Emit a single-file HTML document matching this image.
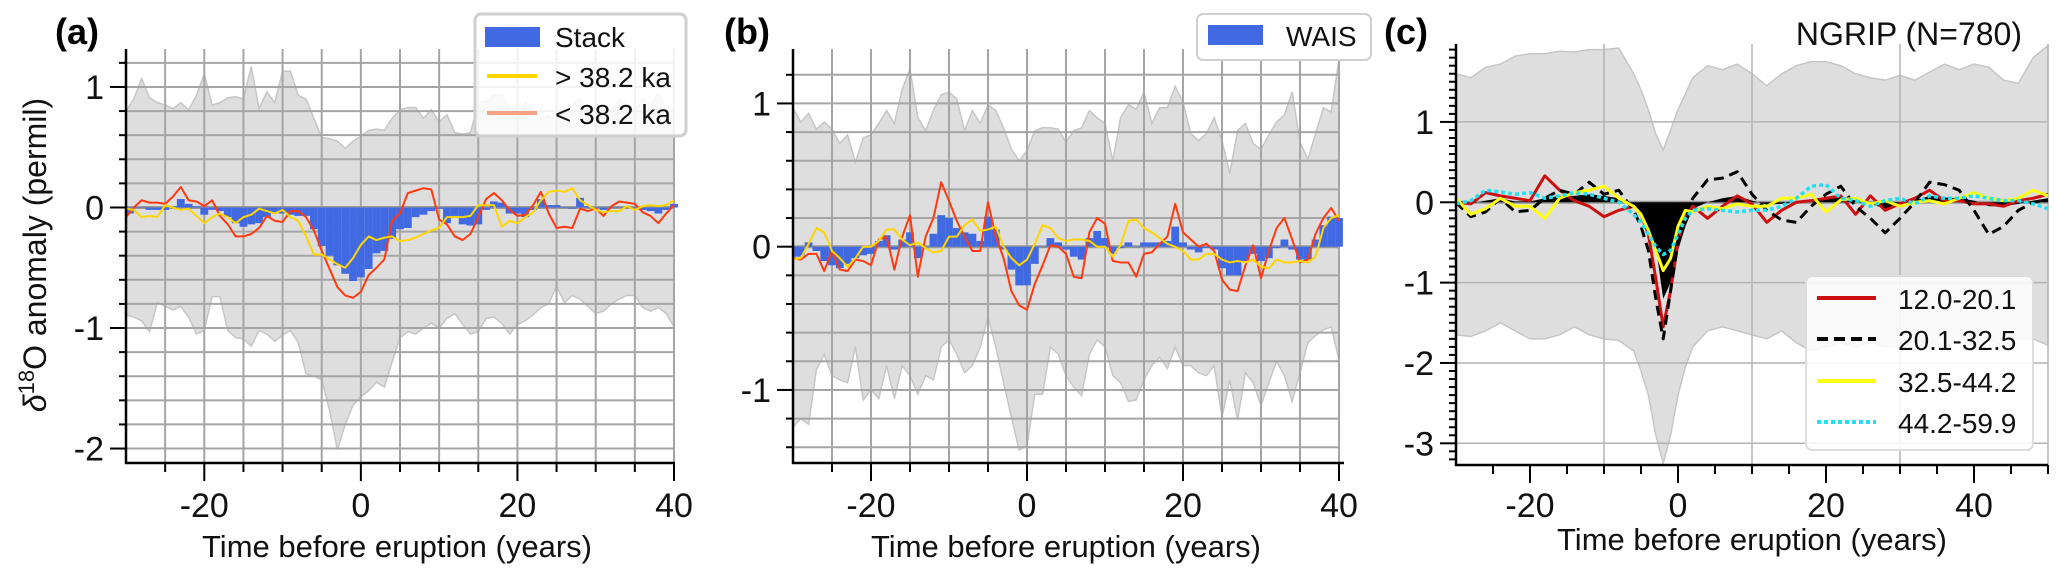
<!DOCTYPE html>
<html><head><meta charset="utf-8">
<style>
html,body{margin:0;padding:0;background:#fff;}
svg{display:block;font-family:"Liberation Sans",Arial,sans-serif;}
</style></head>
<body>
<svg id="fig" width="2067" height="578" viewBox="0 0 2067 578" xmlns="http://www.w3.org/2000/svg"></svg>
<script>
// ---------- Panel A data ----------
const yearsA = [];
for (let t = -30; t <= 40; t++) yearsA.push(t);
const upperA = [.8,.9,1.07,.91,.87,.85,.82,.87,.81,.93,1.11,.85,.87,.91,.92,.9,1.17,.82,.96,.87,1.13,1.13,.93,.9,.74,.58,.57,.55,.49,.55,.59,.64,.65,.64,.74,.81,.83,.83,.74,.81,.71,.77,.62,.61,.62,.87,.88,.93,.94,.81,.71,.87,.81,.74,.76,.71,.8,.85,.9,.8,.85,.75,.8,.9,.85,.8,.9,.85,.95,.8,.75];
const lowerA = [-.89,-.91,-.94,-1.03,-.79,-.82,-.85,-.82,-.91,-1.05,-1.02,-.74,-.74,-1.02,-1.08,-1.09,-1.15,-1.02,-1.05,-1.11,-1.06,-1.02,-1.12,-1.38,-1.4,-1.43,-1.68,-2.01,-1.8,-1.64,-1.57,-1.52,-1.45,-1.49,-1.28,-1.08,-1.03,-1.05,-1.0,-.96,-1.0,-.92,-.88,-.97,-1.05,-1.03,-.92,-.91,-.96,-1.05,-.97,-.94,-.89,-.83,-.8,-.65,-.79,-.73,-.76,-.82,-.88,-.86,-.8,-.76,-.73,-.73,-.83,-.86,-.83,-.88,-.99];
const stackA = [-.05,0,0,-.02,-.02,-.02,.01,.07,.03,.01,-.06,-.02,-.03,-.08,-.13,-.16,-.14,-.13,-.08,-.04,-.05,-.06,-.07,-.07,-.18,-.32,-.4,-.48,-.55,-.61,-.58,-.51,-.38,-.36,-.26,-.18,-.17,-.08,-.06,-.03,-.01,-.13,-.07,-.14,-.15,-.14,-.02,.05,.04,-.05,-.05,-.08,-.02,.07,.02,.02,0,-.01,.08,.01,0,-.02,0,0,0,-.01,-.02,-.03,-.05,-.02,.03];
const youngA = [-.08,0,.06,.04,.04,.03,.09,.17,.06,.05,.01,.06,-.07,-.14,-.24,-.24,-.22,-.17,-.07,-.11,-.12,-.03,-.03,-.08,-.19,-.36,-.51,-.66,-.73,-.75,-.7,-.56,-.5,-.43,-.11,-.05,.12,.14,.16,.15,-.1,-.14,-.24,-.27,-.22,-.08,.07,.12,.06,-.02,-.07,-.06,.02,.13,-.05,-.17,-.16,-.17,-.01,-.03,-.01,-.07,.01,.05,.04,.03,-.04,-.07,-.13,-.05,.02];
const oldA = [-.01,-.02,-.08,-.07,-.08,.02,0,-.02,-.01,-.07,-.13,-.08,-.05,-.08,-.13,-.08,-.06,-.01,-.03,-.05,-.02,-.08,-.11,-.24,-.39,-.39,-.43,-.47,-.5,-.42,-.31,-.24,-.27,-.25,-.24,-.28,-.27,-.25,-.22,-.19,-.17,-.08,-.08,-.08,-.07,.02,.02,.02,-.16,-.11,-.13,-.08,-.04,.06,.13,.14,.13,.16,.06,.02,-.02,-.04,-.03,-.03,.01,-.02,.01,.02,.01,.02,.06];
const xTicksA = [-20,0,20,40];
const yTicksA = [-2,-1,0,1];

// ---------- Panel B data ----------
const yearsB = [];
for (let t = -30; t <= 40; t++) yearsB.push(t);
const upperB = [.97,.87,.93,.82,.87,.82,.72,.78,.59,.76,.78,.86,.95,.86,1.1,1.24,.9,.81,.95,1.06,1.08,1.03,.81,.95,.86,.99,.95,.83,.68,.6,.67,.81,.83,.83,.82,.73,.81,.83,.95,.9,.86,.6,.9,.99,.96,1.08,.86,.97,.97,1.12,1.01,.79,.74,.79,.9,.74,.51,.81,.86,.72,.68,.78,.87,.92,1.08,.73,.61,.79,.97,.94,1.31];
const lowerB = [-1.26,-1.2,-1.24,-.86,-.75,-.9,-.93,-.95,-.7,-1.07,-1.0,-1.06,-.83,-1.06,-.83,-.9,-1.03,-.9,-.93,-.7,-.65,-.75,-.88,-.83,-.7,-.49,-.7,-.95,-1.19,-1.42,-1.39,-1.03,-1.03,-.7,-.75,-.9,-.98,-1.04,-.75,-.65,-.7,-.9,-.95,-1.08,-1.07,-.93,-.83,-.77,-.85,-.7,-.83,-.83,-.88,-.9,-.83,-1.19,-.93,-1.21,-.88,-.95,-1.11,-.95,-.8,-.9,-1.08,-.88,-.67,-.62,-.58,-.56,-.79];
const waisB = [-.07,-.06,.03,-.03,-.1,-.13,-.15,-.12,-.08,-.06,-.05,.04,.08,-.02,.05,.1,-.08,0,.09,.22,.2,.13,.1,.09,.04,.21,.12,-.02,-.16,-.27,-.27,-.12,0,.06,.03,-.02,-.07,-.09,.06,.11,.06,-.05,-.01,.03,0,.03,.03,.03,.04,.14,.03,-.02,-.04,-.01,-.02,-.15,-.2,-.2,-.1,-.05,-.1,-.08,-.01,.05,-.02,-.09,-.09,.05,.15,.21,.2];
const youngB = [-.08,-.09,-.05,-.05,-.17,-.03,-.16,-.17,-.09,-.1,-.13,.05,.07,-.16,.07,.22,-.21,.07,.2,.45,.32,.18,.07,-.03,-.03,.31,.07,-.08,-.31,-.41,-.44,-.26,-.13,.01,0,-.05,-.21,-.22,.1,.2,.16,-.1,-.11,-.11,-.21,-.05,-.04,.02,.07,.3,.1,.05,0,.02,-.03,-.23,-.3,-.31,-.13,.01,-.22,-.03,.13,.2,.05,-.11,-.09,.09,.2,.27,.18];
const oldB = [-.09,-.08,.02,.13,.1,-.03,-.08,-.14,-.08,0,0,.04,.12,.12,.05,.01,.03,-.01,-.04,-.03,.07,.07,.15,.19,.11,.12,.14,0,-.08,-.13,-.09,.02,.15,.13,.06,.04,.05,.05,.04,0,0,-.07,.01,.18,.19,.13,.1,.06,.02,0,-.03,-.09,-.09,-.05,-.05,-.09,-.11,-.1,-.11,-.09,-.14,-.15,-.09,-.11,-.11,-.1,-.11,-.07,.13,.2,.22];
const xTicksB = [-20,0,20,40];
const yTicksB = [-1,0,1];

// ---------- Panel C data ----------
const yearsC = [-30,-28,-26,-24,-22,-20,-18,-16,-14,-12,-10,-8,-6,-5,-4,-3,-2,-1,0,1,2,4,6,8,10,12,14,16,18,20,22,24,26,28,30,32,34,36,38,40,42,44,46,48,50];
const upperC = [1.6,1.55,1.68,1.72,1.82,1.85,1.85,1.88,1.87,1.9,1.9,1.92,1.6,1.4,1.15,.85,.65,.9,1.15,1.35,1.55,1.7,1.65,1.72,1.6,1.45,1.6,1.7,1.75,1.75,1.7,1.6,1.55,1.52,1.58,1.52,1.62,1.72,1.65,1.72,1.68,1.52,1.48,1.8,1.95];
const lowerC = [-1.65,-1.67,-1.6,-1.5,-1.6,-1.7,-1.7,-1.65,-1.55,-1.65,-1.7,-1.72,-1.85,-2.1,-2.4,-2.9,-3.25,-2.9,-2.4,-2.05,-1.8,-1.6,-1.55,-1.6,-1.65,-1.7,-1.6,-1.75,-1.85,-1.8,-1.75,-1.8,-1.75,-1.8,-1.78,-1.72,-1.75,-1.8,-1.7,-1.75,-1.72,-1.78,-1.7,-1.7,-1.78];
const meanC = [0,-.02,.02,.05,.01,.01,.05,.08,.08,.1,.08,.05,-.05,-.15,-.35,-.55,-1.2,-1.0,-.6,-.3,-.08,0,.05,.08,.02,-.03,-.02,0,.03,.05,.08,.02,-.02,-.08,-.03,.02,.08,.06,.05,.02,-.05,-.05,-.02,.02,.05];
const c1 = [0,-.02,.12,.08,.05,.02,.33,.15,.02,-.05,-.18,-.1,-.05,-.15,-.4,-.95,-1.55,-1.1,-.5,-.15,-.05,-.2,-.05,.08,-.02,-.25,-.1,0,.02,.05,.08,-.15,.08,-.1,-.02,.05,.15,.02,.02,-.02,-.02,-.05,.02,.05,.1];
const c2 = [0,-.18,-.12,.05,-.12,-.1,.05,.15,.1,.25,.1,.15,-.1,-.3,-.6,-1.2,-1.7,-1.1,-.5,-.15,.05,.28,.3,.38,.1,-.1,-.22,-.25,-.05,.1,.2,-.05,-.2,-.38,-.2,0,.25,.22,.15,-.1,-.4,-.3,-.1,0,.03];
const c3 = [.05,-.15,-.08,.05,-.05,-.05,-.2,.05,.12,.15,.2,.05,-.05,-.15,-.35,-.6,-.85,-.7,-.3,-.1,-.12,-.05,-.08,-.02,-.05,-.05,.05,.05,.1,-.12,.03,.05,-.02,.02,-.05,0,.02,-.02,.05,.12,.05,.02,.05,.15,.08];
const c4 = [-.02,.02,.15,.13,.1,.12,.05,.08,.12,.1,.05,0,-.15,-.25,-.4,-.55,-.65,-.6,-.4,-.2,-.1,-.08,-.1,-.12,-.1,-.1,-.05,.05,.2,.22,.05,.02,-.05,.02,.05,-.02,.08,.05,.05,.08,.05,.02,.02,-.02,-.08];
const xTicksC = [-20,0,20,40];
const yTicksC = [-3,-2,-1,0,1];

// ---------- drawing ----------
const NS = "http://www.w3.org/2000/svg";
const svg = document.getElementById("fig");
function mk(tag, attrs, parent) {
  const e = document.createElementNS(NS, tag);
  for (const k in attrs) e.setAttribute(k, attrs[k]);
  (parent || svg).appendChild(e);
  return e;
}
function scale(d0, d1, r0, r1) { return v => r0 + (v - d0) * (r1 - r0) / (d1 - d0); }

function panel(cfg) {
  const g = mk("g", {});
  
  
  const X = scale(cfg.xmin, cfg.xmax, cfg.left, cfg.right);
  const Y = scale(cfg.ymin, cfg.ymax, cfg.bottom, cfg.top);
  let d = "";
  cfg.years.forEach((t, i) => { d += (i ? "L" : "M") + X(t) + "," + Y(cfg.upper[i]); });
  for (let i = cfg.years.length - 1; i >= 0; i--) d += "L" + X(cfg.years[i]) + "," + Y(cfg.lower[i]);
  const env = mk("path", {d: d + "Z", fill: "#dedede", stroke: "#c6c6c6", "stroke-width": 1.5}, g);
  
  
  const gg = mk("g", {stroke: cfg.gridColor, "stroke-width": cfg.gridW}, g);
  
  
  for (let v = cfg.xmin; v <= cfg.xmax + 1e-9; v += cfg.gridDx) {
    if (v <= cfg.xmin) continue;
    mk("line", {x1: X(v), x2: X(v), y1: cfg.top, y2: cfg.bottom}, gg);
  }
  const gy0 = Math.ceil(cfg.ymin / cfg.gridDy) * cfg.gridDy;
  for (let v = gy0; v <= cfg.ymax + 1e-9; v += cfg.gridDy) {
    mk("line", {x1: cfg.left, x2: cfg.gridRight, y1: Y(v), y2: Y(v)}, gg);
  }
  const z = mk("line", {x1: cfg.left, x2: cfg.gridRight, y1: Y(0), y2: Y(0), stroke: "#999", "stroke-width": 3}, g);
  
  
  if (cfg.bars) {
    const bg = mk("g", {fill: cfg.barColor}, g);
    
    
    cfg.bars.forEach((v, i) => {
      const t = cfg.barYears[i];
      const w = X(t + 0.5) - X(t - 0.5);
      const y0 = Math.min(Y(0), Y(v)), h = Math.abs(Y(v) - Y(0));
      const r = mk("rect", {x: Math.max(cfg.left, X(t - 0.5)), y: y0, width: w, height: Math.max(h, 0.5)}, bg);
      
      
    });
  }
  if (cfg.area) {
    let p = "M" + X(cfg.years[0]) + "," + Y(0);
    cfg.area.forEach((v, i) => { p += "L" + X(cfg.years[i]) + "," + Y(v); });
    p += "L" + X(cfg.years[cfg.years.length - 1]) + "," + Y(0) + "Z";
    const a = mk("path", {d: p, fill: "#000"}, g);
    
    
  }
  cfg.lines.forEach(L => {
    let p = "";
    L.data.forEach((v, i) => { p += (i ? "L" : "M") + X(cfg.years[i]) + "," + Y(v); });
    const a = {d: p, fill: "none", stroke: L.color, "stroke-width": L.w, "stroke-linejoin": "round"};
    if (L.dash) a["stroke-dasharray"] = L.dash;
    const e = mk("path", a, g);
    
    
  });
  const ax = mk("g", {stroke: "#000", "stroke-width": 2.5}, g);
  
  
  mk("line", {x1: cfg.left, x2: cfg.left, y1: cfg.top, y2: cfg.bottom + 1}, ax);
  mk("line", {x1: cfg.left - 1, x2: cfg.axisRight, y1: cfg.bottom, y2: cfg.bottom}, ax);
  for (let v = cfg.xmin + 5; v <= cfg.xmax + 1e-9; v += 5) {
    const major = cfg.xTicks.indexOf(v) >= 0;
    mk("line", {x1: X(v), x2: X(v), y1: cfg.bottom, y2: cfg.bottom + (major ? 18 : 9), "stroke-width": 2}, ax);
  }
  for (let k = Math.ceil(cfg.ymin / cfg.minorDy); k * cfg.minorDy <= cfg.ymax + 1e-9; k++) {
    const v = k * cfg.minorDy;
    const major = cfg.yTicks.some(t => Math.abs(t - v) < 1e-6);
    mk("line", {x1: cfg.left, x2: cfg.left - (major ? 16 : 7), y1: Y(v), y2: Y(v), "stroke-width": 2}, ax);
  }
  cfg.xTicks.forEach(v => {
    const t = mk("text", {x: X(v), y: 517, "font-size": 34, "text-anchor": "middle", fill: "#111"}, g);
    t.textContent = v;
    
    
  });
  cfg.yTicks.forEach(v => {
    const t = mk("text", {x: cfg.left - 22, y: Y(v) + 12, "font-size": 34, "text-anchor": "end", fill: "#111"}, g);
    t.textContent = v;
    
    
  });
  const xl = mk("text", {x: (cfg.left + cfg.right) / 2 + cfg.xlShift, y: cfg.xlY, "font-size": 31, "text-anchor": "middle", fill: "#111"}, g);
  xl.textContent = "Time before eruption (years)";
  
  
  const pl = mk("text", {x: cfg.labelX, y: 44, "font-size": 36, "font-weight": "bold", fill: "#000"}, g);
  pl.textContent = cfg.label;
  
  
  return g;
}

panel({name: "panel-a-stack", label: "(a)", labelX: 55, xmin: -30, xmax: 40, ymin: -2.12, ymax: 1.315,
  left: 126, right: 674, top: 49, bottom: 463, gridRight: 674, axisRight: 675,
  gridColor: "#a5a5a5", gridW: 2, gridDx: 5, gridDy: 0.2, minorDy: 0.2,
  years: yearsA, upper: upperA, lower: lowerA, bars: stackA, barYears: yearsA, barColor: "#4169e1",
  lines: [{name: "line-young-lt-38ka", data: youngA, color: "#ff3a10", w: 2},
          {name: "line-old-gt-38ka", data: oldA, color: "#ffd500", w: 2}],
  xTicks: xTicksA, yTicks: yTicksA, xlShift: -3, xlY: 557});
panel({name: "panel-b-wais", label: "(b)", labelX: 724, xmin: -30, xmax: 40, ymin: -1.51, ymax: 1.38,
  left: 793, right: 1339, top: 49, bottom: 463, gridRight: 1339, axisRight: 1344,
  gridColor: "#a5a5a5", gridW: 2, gridDx: 5, gridDy: 0.2, minorDy: 0.2,
  years: yearsB, upper: upperB, lower: lowerB, bars: waisB, barYears: yearsB, barColor: "#4169e1",
  lines: [{name: "line-young", data: youngB, color: "#ff3a10", w: 2},
          {name: "line-old", data: oldB, color: "#ffd500", w: 2}],
  xTicks: xTicksB, yTicks: yTicksB, xlShift: 0, xlY: 557});
panel({name: "panel-c-ngrip", label: "(c)", labelX: 1384, xmin: -30, xmax: 50, ymin: -3.27, ymax: 1.97,
  left: 1456, right: 2048, top: 44, bottom: 465, gridRight: 2048, axisRight: 2048,
  gridColor: "#b4b4b4", gridW: 1.5, gridDx: 20, gridDy: 1, minorDy: 0.1,
  years: yearsC, upper: upperC, lower: lowerC, area: meanC,
  lines: [{name: "line-12-20ka", data: c1, color: "#cc1010", w: 3},
          {name: "line-20-32ka", data: c2, color: "#000", w: 3, dash: "10,6"},
          {name: "line-32-44ka", data: c3, color: "#ffff10", w: 3},
          {name: "line-44-60ka", data: c4, color: "#22e0f0", w: 3.5, dash: "4,3"}],
  xTicks: xTicksC, yTicks: yTicksC, xlShift: 0, xlY: 550});
</script>

<svg style="position:absolute;left:0;top:0" width="2067" height="578" xmlns="http://www.w3.org/2000/svg" font-family="Liberation Sans, Arial, sans-serif">
  <text transform="translate(46,255) rotate(-90)" text-anchor="middle" font-size="32" fill="#111"><tspan font-style="italic">δ</tspan><tspan dy="-12" font-size="22">18</tspan><tspan dy="12">O anomaly (permil)</tspan></text>

  <g>
    <rect x="475" y="14" width="211" height="122" rx="6" fill="#fff" fill-opacity="0.85" stroke="#cfcfcf" stroke-width="3"/>
    <rect x="485" y="27" width="55" height="20" fill="#4169e1"/>
    <text x="555" y="47" font-size="28" fill="#111">Stack</text>
    <line x1="487" x2="537" y1="76" y2="76" stroke="#ffd500" stroke-width="4"/>
    <text x="555" y="87" font-size="28" fill="#111">&gt; 38.2 ka</text>
    <line x1="487" x2="537" y1="113" y2="113" stroke="#f4a283" stroke-width="4"/>
    <text x="555" y="124" font-size="28" fill="#111">&lt; 38.2 ka</text>
  </g>

  <g>
    <rect x="1197" y="14" width="174" height="46" rx="6" fill="#fff" stroke="#cfcfcf" stroke-width="2"/>
    <rect x="1208" y="25" width="55" height="20" fill="#4169e1"/>
    <text x="1286" y="46" font-size="28" fill="#111">WAIS</text>
  </g>

  <text x="2022" y="45" text-anchor="end" font-size="32" fill="#111">NGRIP (N=780)</text>

  <g>
    <rect x="1806" y="276" width="227" height="174" rx="6" fill="#fff" fill-opacity="0.85" stroke="#dddddd" stroke-width="2"/>
    <line x1="1817" x2="1876" y1="298" y2="298" stroke="#cc1010" stroke-width="4"/>
    <text x="1898" y="309" font-size="28" fill="#111">12.0-20.1</text>
    <line x1="1817" x2="1876" y1="339" y2="339" stroke="#000" stroke-width="4" stroke-dasharray="11,6"/>
    <text x="1898" y="350" font-size="28" fill="#111">20.1-32.5</text>
    <line x1="1817" x2="1876" y1="381" y2="381" stroke="#ffff10" stroke-width="4"/>
    <text x="1898" y="392" font-size="28" fill="#111">32.5-44.2</text>
    <line x1="1817" x2="1876" y1="422" y2="422" stroke="#22e0f0" stroke-width="4" stroke-dasharray="4,3"/>
    <text x="1898" y="433" font-size="28" fill="#111">44.2-59.9</text>
  </g>
</svg>
</body></html>
